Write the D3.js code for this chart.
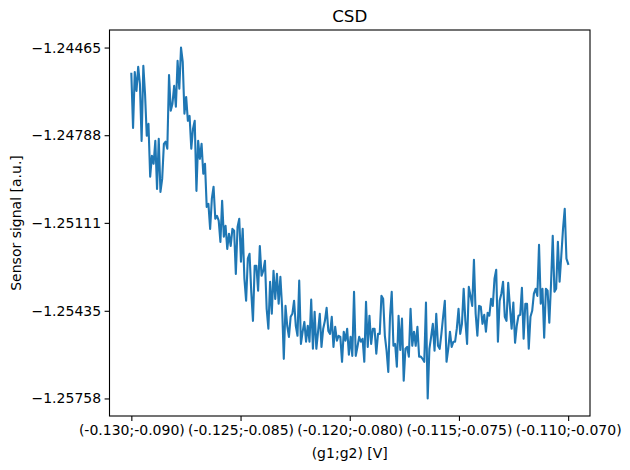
<!DOCTYPE html>
<html>
<head>
<meta charset="utf-8">
<script src="https://cdn.jsdelivr.net/npm/d3@7"></script>
<style>
	body { margin: 0; background: #fff; }
	text { font-family: "DejaVu Sans", sans-serif; fill: #000; }
</style>
</head>
<body>
<div id="visHolder"></div>
<script>
// sensor signal along the (g1;g2) sweep
const signal = [
	-1.24562, -1.24761, -1.24555, -1.24625, -1.24536, -1.24599, -1.24809, -1.24532, -1.24636, -1.24790,
	-1.24746, -1.24941, -1.24864, -1.24893, -1.24809, -1.24986, -1.24801, -1.24997, -1.24949, -1.24820,
	-1.24812, -1.24838, -1.24566, -1.24698, -1.24672, -1.24606, -1.24683, -1.24514, -1.24617, -1.24465,
	-1.24518, -1.24709, -1.24647, -1.24735, -1.24717, -1.24838, -1.24764, -1.24735, -1.24993, -1.24809,
	-1.24875, -1.24820,
	-1.24930, -1.24893, -1.25052, -1.25041, -1.25133, -1.25022, -1.24978, -1.25096, -1.25085, -1.25103,
	-1.25181, -1.25030, -1.25162, -1.25122, -1.25207, -1.25151, -1.25196, -1.25133, -1.25140, -1.25299,
	-1.25126, -1.25096, -1.25254, -1.25133, -1.25317, -1.25398, -1.25243, -1.25225, -1.25365, -1.25472,
	-1.25269, -1.25269, -1.25361, -1.25196, -1.25306, -1.25288, -1.25251, -1.25428, -1.25501, -1.25328,
	-1.25446, -1.25288, -1.25391, -1.25299, -1.25409, -1.25310, -1.25420, -1.25612, -1.25417, -1.25490,
	-1.25531, -1.25457, -1.25446, -1.25398, -1.25490, -1.25527, -1.25324,
	-1.25557, -1.25512, -1.25476, -1.25549, -1.25490, -1.25549, -1.25394, -1.25575, -1.25439, -1.25575,
	-1.25512, -1.25446, -1.25568, -1.25501, -1.25472, -1.25424, -1.25509, -1.25520, -1.25457, -1.25568,
	-1.25494, -1.25545, -1.25527, -1.25531, -1.25623, -1.25512, -1.25545, -1.25501, -1.25597, -1.25531,
	-1.25601, -1.25365, -1.25601, -1.25568, -1.25531, -1.25549, -1.25538, -1.25623, -1.25402, -1.25568,
	-1.25453, -1.25557, -1.25501, -1.25501, -1.25593, -1.25520, -1.25520, -1.25380, -1.25391, -1.25527,
	-1.25582, -1.25660, -1.25457, -1.25365,
	-1.25564, -1.25557, -1.25641, -1.25453, -1.25579, -1.25464, -1.25693, -1.25575, -1.25568, -1.25604,
	-1.25428, -1.25564, -1.25512, -1.25564, -1.25494, -1.25604, -1.25604, -1.25612, -1.25623, -1.25405,
	-1.25758, -1.25575, -1.25531, -1.25483, -1.25582, -1.25446, -1.25564, -1.25575, -1.25520, -1.25457,
	-1.25398, -1.25623, -1.25575, -1.25512, -1.25568, -1.25549, -1.25549, -1.25501, -1.25428, -1.25520,
	-1.25483, -1.25354, -1.25472, -1.25557, -1.25347,
	-1.25380, -1.25417, -1.25247, -1.25446, -1.25527, -1.25417, -1.25420, -1.25483, -1.25450, -1.25512,
	-1.25442, -1.25453, -1.25391, -1.25417, -1.25317, -1.25284, -1.25549, -1.25398, -1.25372, -1.25328,
	-1.25457, -1.25472, -1.25332, -1.25420, -1.25501, -1.25405, -1.25553, -1.25490, -1.25453, -1.25450,
	-1.25350, -1.25538, -1.25409, -1.25409, -1.25575, -1.25457, -1.25435, -1.25372, -1.25354, -1.25380,
	-1.25192, -1.25409, -1.25354, -1.25534, -1.25354, -1.25361, -1.25479, -1.25336, -1.25159, -1.25365,
	-1.25354, -1.25181, -1.25328, -1.25232, -1.25133, -1.25059, -1.25243, -1.25262,
];

const xTickLabels = [
	"(-0.130;-0.090)",
	"(-0.125;-0.085)",
	"(-0.120;-0.080)",
	"(-0.115;-0.075)",
	"(-0.110;-0.070)",
];
const yTickValues = [-1.24465, -1.24788, -1.25111, -1.25435, -1.25758];

const width = 630;
const height = 470;
const plot = { left: 109.5, right: 590, top: 30, bottom: 416 };
const fontSize = 14;

const svg = d3
	.select("#visHolder")
	.append("svg")
	.attr("width", width)
	.attr("height", height);

//scales with matplotlib's 5% margins
const last = signal.length - 1;
const xScale = d3
	.scaleLinear()
	.domain([-0.05 * last, 1.05 * last])
	.range([plot.left, plot.right]);

const [yMin, yMax] = d3.extent(signal);
const ySpan = yMax - yMin;
const yScale = d3
	.scaleLinear()
	.domain([yMin - 0.05 * ySpan, yMax + 0.05 * ySpan])
	.range([plot.bottom, plot.top]);

const xTickPositions = xTickLabels.map((_d, i) => (i * last) / (xTickLabels.length - 1));

const xAxis = d3
	.axisBottom(xScale)
	.tickValues(xTickPositions)
	.tickFormat((_d, i) => xTickLabels[i])
	.tickSize(4.9)
	.tickPadding(4.5)
	.tickSizeOuter(0);

const yAxis = d3
	.axisLeft(yScale)
	.tickValues(yTickValues)
	.tickFormat((d) => d3.format(".5f")(d).replace("-", "\u2212"))
	.tickSize(4.9)
	.tickPadding(3.5)
	.tickSizeOuter(0);

const line = d3
	.line()
	.x((_d, i) => xScale(i))
	.y((d) => yScale(d));

svg
	.append("path")
	.datum(signal)
	.attr("fill", "none")
	.attr("stroke", "#1f77b4")
	.attr("stroke-width", 2.1)
	.attr("stroke-linejoin", "round")
	.attr("stroke-linecap", "square")
	.attr("d", line);

function styleAxis(g) {
	g.select(".domain").remove();
	g.selectAll(".tick line").attr("stroke", "#000").attr("stroke-width", 1.1);
	g.selectAll(".tick text")
		.attr("fill", "#000")
		.style("font-size", fontSize + "px")
		.style("font-family", '"DejaVu Sans", sans-serif');
}

svg
	.append("g")
	.attr("transform", `translate(0,${plot.bottom})`)
	.call(xAxis)
	.call(styleAxis);

svg
	.append("g")
	.attr("transform", `translate(${plot.left},0)`)
	.call(yAxis)
	.call(styleAxis);

//frame
svg
	.append("rect")
	.attr("x", plot.left)
	.attr("y", plot.top)
	.attr("width", plot.right - plot.left)
	.attr("height", plot.bottom - plot.top)
	.attr("fill", "none")
	.attr("stroke", "#000")
	.attr("stroke-width", 1.1);

svg
	.append("text")
	.attr("x", (plot.left + plot.right) / 2)
	.attr("y", 22)
	.attr("text-anchor", "middle")
	.style("font-size", "16.7px")
	.text("CSD");

svg
	.append("text")
	.attr("x", (plot.left + plot.right) / 2)
	.attr("y", 458)
	.attr("text-anchor", "middle")
	.style("font-size", fontSize + "px")
	.text("(g1;g2) [V]");

svg
	.append("text")
	.attr("transform", `translate(20.5,${(plot.top + plot.bottom) / 2}) rotate(-90)`)
	.attr("text-anchor", "middle")
	.style("font-size", fontSize + "px")
	.text("Sensor signal [a.u.]");
</script>
</body>
</html>
